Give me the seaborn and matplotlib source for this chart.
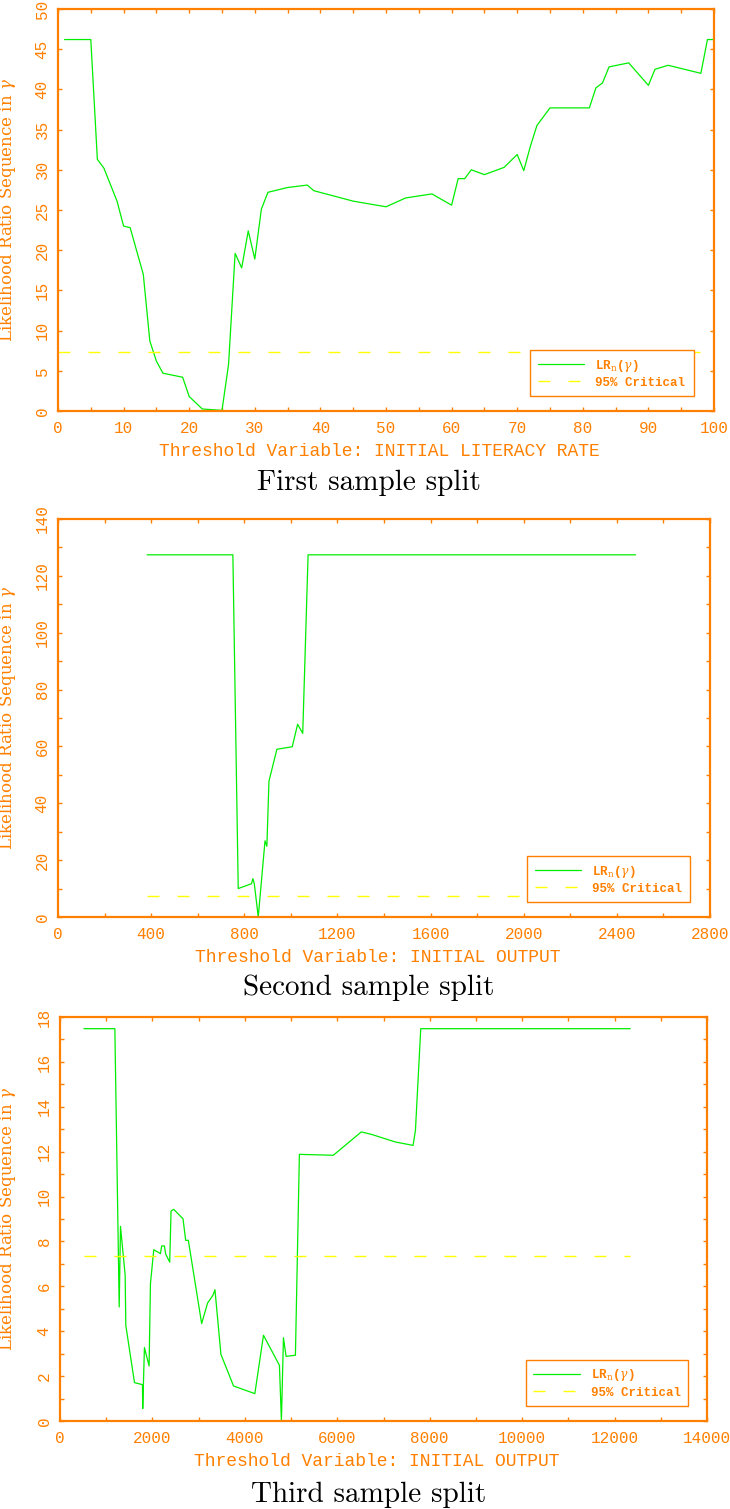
import matplotlib
matplotlib.use('Agg')
import matplotlib.pyplot as plt
import seaborn as sns
from matplotlib.ticker import MultipleLocator

# --- DATOS ---
# Primera division: tasa inicial de alfabetizacion
x_lit = [1, 5, 6, 7, 9, 10, 11, 13, 14, 15, 16, 19, 20, 22, 25, 26, 27, 28, 29, 30,
         31, 32, 35, 38, 39, 45, 50, 53, 57, 60, 61, 62, 63, 65, 68, 70, 71, 72, 73,
         75, 81, 82, 83, 84, 87, 90, 91, 93, 98, 99, 100]
lr_lit = [46.2, 46.2, 31.3, 30.2, 26.1, 23.0, 22.8, 17.0, 8.7, 6.2, 4.7, 4.2, 1.8, 0.25,
          0.08, 5.8, 19.6, 17.8, 22.4, 18.9, 25.1, 27.2, 27.8, 28.1, 27.4, 26.1, 25.4,
          26.5, 27.0, 25.6, 28.9, 28.9, 30.0, 29.4, 30.3, 31.9, 29.9, 32.9, 35.5, 37.7,
          37.7, 40.2, 40.8, 42.8, 43.3, 40.5, 42.5, 43.0, 42.0, 46.2, 46.2]
crit_lit_x = [0, 99]

# Segunda division: producto inicial
x_out2 = [383, 751, 774, 831, 837, 843, 860, 889, 897, 906, 940, 1006, 1029, 1051, 1074, 2480]
lr_out2 = [127.4, 127.4, 10.0, 11.7, 13.5, 11.7, 0.0, 26.8, 24.9, 47.8, 59.0, 59.9, 67.8,
           64.6, 127.4, 127.4]
crit_out2_x = [383, 2480]

# Tercera division: producto inicial
x_out3 = [518, 1187, 1281, 1309, 1410, 1424, 1612, 1784, 1790, 1827, 1928, 1957, 2029,
          2173, 2201, 2259, 2288, 2374, 2403, 2460, 2662, 2719, 2777, 3065, 3194, 3309,
          3353, 3482, 3755, 4216, 4403, 4748, 4791, 4835, 4892, 5094, 5180, 5914, 6520,
          6640, 6755, 7259, 7640, 7691, 7806, 12340]
lr_out3 = [17.48, 17.48, 5.08, 8.67, 6.49, 4.26, 1.71, 1.62, 0.55, 3.27, 2.45, 6.12, 7.63,
           7.46, 7.80, 7.80, 7.43, 7.08, 9.36, 9.43, 9.01, 8.05, 8.05, 4.34, 5.26, 5.60,
           5.85, 2.97, 1.56, 1.22, 3.82, 2.48, 0.0, 3.71, 2.88, 2.93, 11.88, 11.84, 12.88,
           12.82, 12.76, 12.43, 12.28, 12.95, 17.48, 17.48]
crit_out3_x = [518, 12340]

valor_critico = 7.35

titulos = ['First sample split', 'Second sample split', 'Third sample split']
etiquetas_x = ['Threshold Variable: INITIAL LITERACY RATE',
               'Threshold Variable: INITIAL OUTPUT',
               'Threshold Variable: INITIAL OUTPUT']

NARANJA = '#ff8000'
VERDE = '#00ee00'
AMARILLO = '#ffff00'

sns.set_theme(style='ticks')
plt.rcParams['font.family'] = ['Liberation Mono', 'DejaVu Sans Mono']
plt.rcParams['mathtext.fontset'] = 'dejavuserif'

fig = plt.figure(figsize=(7.3, 15.09), dpi=100)
W, H = 730.0, 1509.0


def panel(rect, x, y, cx, xmax, xmaj, xmin, ymax, ymaj, ymin, xlabel):
    l, t, r, b = rect
    ax = fig.add_axes([l / W, 1 - b / H, (r - l) / W, (b - t) / H])
    sns.lineplot(x=x, y=y, ax=ax, color=VERDE, linewidth=0.9, estimator=None, sort=False,
                 label=r'LR$_{\rm n}$($\gamma$)')
    sns.lineplot(x=cx, y=[valor_critico] * len(cx), ax=ax, color=AMARILLO, linewidth=1,
                 linestyle=(0, (8.6, 13)), estimator=None, sort=False, label='95% Critical')
    ax.set_xlim(0, xmax)
    ax.set_ylim(0, ymax)
    ax.xaxis.set_major_locator(MultipleLocator(xmaj))
    ax.xaxis.set_minor_locator(MultipleLocator(xmin))
    ax.yaxis.set_major_locator(MultipleLocator(ymaj))
    ax.yaxis.set_minor_locator(MultipleLocator(ymin))
    ax.tick_params(which='both', direction='in', length=3, width=1, color=NARANJA,
                   top=True, right=True, labelcolor=NARANJA, labelsize=11.5)
    ax.tick_params(axis='x', pad=7)
    ax.tick_params(axis='y', pad=6)
    plt.setp(ax.get_yticklabels(), rotation=90, va='center')
    for s in ax.spines.values():
        s.set_color(NARANJA)
        s.set_linewidth(1.6)
    ax.set_xlabel(xlabel, color=NARANJA, fontsize=13)
    ax.xaxis.set_label_coords(0.49, -0.08)
    ax.set_ylabel(r'Likelihood Ratio Sequence in $\gamma$', color=NARANJA, fontsize=12,
                  family='DejaVu Serif')
    ax.yaxis.set_label_coords((18 - l) / (r - l), 0.5)
    leg = ax.legend(loc='lower left', bbox_to_anchor=(0.72, 0.037, 0.25, 0.11), mode='expand',
                    borderaxespad=0, fancybox=False, framealpha=1, edgecolor=NARANJA,
                    handlelength=3.7, handletextpad=0.9, borderpad=0.6, labelspacing=0.25,
                    prop={'family': 'Liberation Mono', 'size': 9, 'weight': 'bold'},
                    labelcolor=NARANJA)
    leg.get_frame().set_linewidth(1)
    leg.set_zorder(5)
    return ax


panel((58, 9, 714, 411), x_lit, lr_lit, crit_lit_x, 100, 10, 5, 50, 5, 5, etiquetas_x[0])
panel((58, 519, 710, 917), x_out2, lr_out2, crit_out2_x, 2800, 400, 200, 140, 20, 10, etiquetas_x[1])
panel((60, 1017, 707, 1421), x_out3, lr_out3, crit_out3_x, 14000, 2000, 1000, 18, 2, 1, etiquetas_x[2])

# titulos de cada panel, debajo del eje
for titulo, base in zip(titulos, [490, 995, 1502]):
    fig.text(369 / W, 1 - base / H, titulo, family='cmr10', fontsize=21, color='black',
             ha='center', va='baseline')

fig.savefig('out.png', dpi=100)
print("Grafico guardado en out.png")
